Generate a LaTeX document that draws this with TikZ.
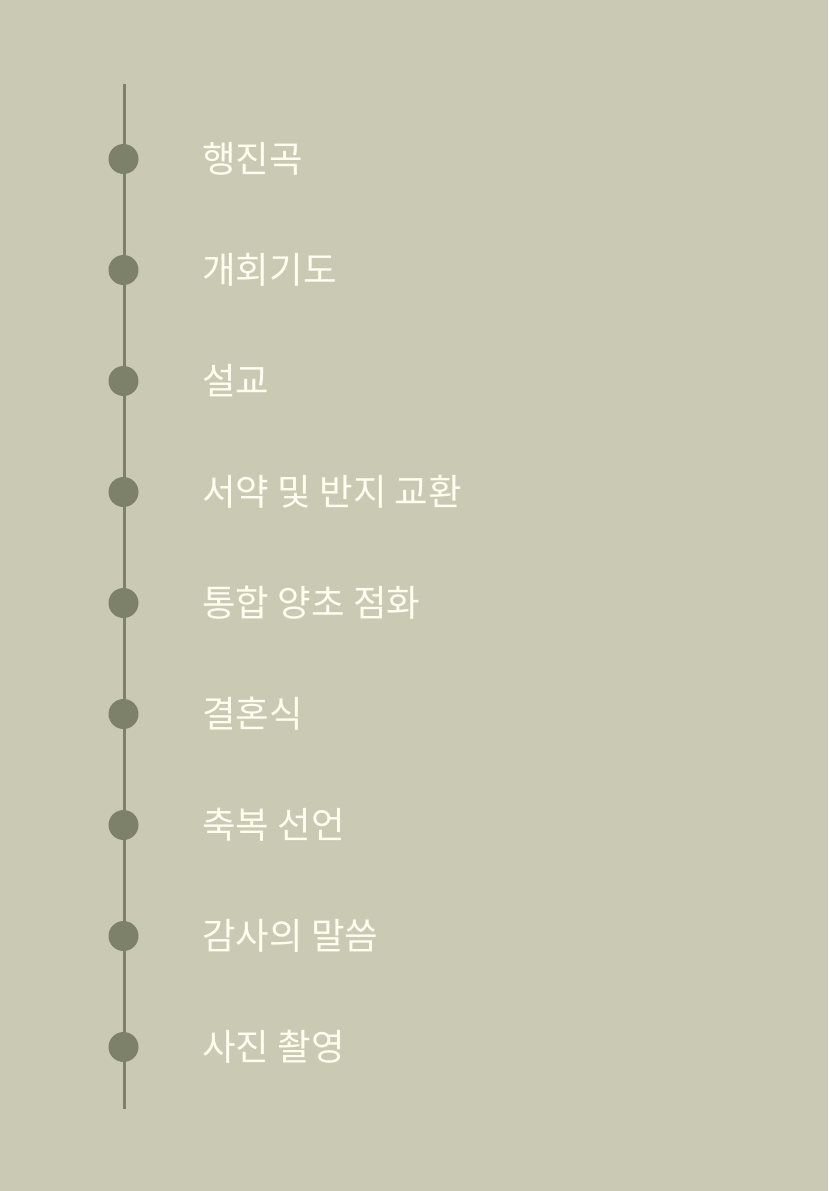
\documentclass[tikz,border=0pt]{standalone}
\usepackage{fontspec}
\newfontfamily\krfont{Noto Sans CJK KR}
\usetikzlibrary{positioning}
\definecolor{bgsage}{HTML}{CAC9B4}
\definecolor{dotsage}{HTML}{7E8169}
\definecolor{lblcream}{HTML}{FFFDF0}
\begin{document}
\begin{tikzpicture}[x=1pt,y=-1pt,
    evt-dot/.style = {circle, fill=dotsage, inner sep=0pt, minimum size=30pt},
    evt-lbl/.style = {anchor=west, text=lblcream, inner sep=0pt,
      font=\krfont\fontsize{36.5}{44}\selectfont},
    node distance = 111pt
  ]
  \fill[bgsage] (0,0) rectangle (828,1191);
  \useasboundingbox (0,0) rectangle (828,1191);

  \coordinate (top) at (124,84);
  \coordinate (bot) at (124,1109);
  \draw[dotsage, line width=3pt] (top) -- (bot);

  \node[evt-dot] (1) at (123.5,159) {};
  \node[evt-dot,below of=1] (2) {};
  \node[evt-dot,below of=2] (3) {};
  \node[evt-dot,below of=3] (4) {};
  \node[evt-dot,below of=4] (5) {};
  \node[evt-dot,below of=5] (6) {};
  \node[evt-dot,below of=6] (7) {};
  \node[evt-dot,below of=7] (8) {};
  \node[evt-dot,below of=8] (9) {};

  \node[evt-lbl,right=63.5pt of 1] (l1) {행진곡};
  \node[evt-lbl,right=63.5pt of 2] (l2) {개회기도};
  \node[evt-lbl,right=63.5pt of 3] (l3) {설교};
  \node[evt-lbl,right=63.5pt of 4] (l4) {서약 및 반지 교환};
  \node[evt-lbl,right=63.5pt of 5] (l5) {통합 양초 점화};
  \node[evt-lbl,right=63.5pt of 6] (l6) {결혼식};
  \node[evt-lbl,right=63.5pt of 7] (l7) {축복 선언};
  \node[evt-lbl,right=63.5pt of 8] (l8) {감사의 말씀};
  \node[evt-lbl,right=63.5pt of 9] (l9) {사진 촬영};
\end{tikzpicture}
\end{document}
